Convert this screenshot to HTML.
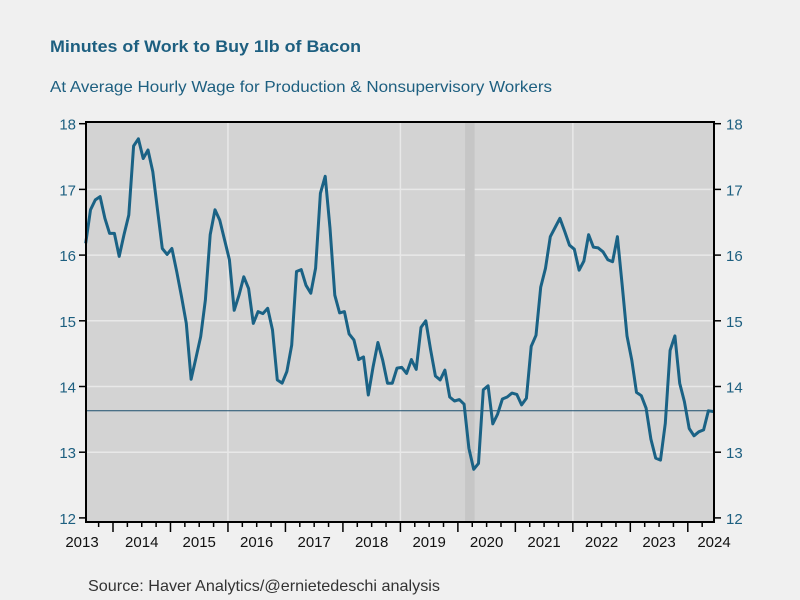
<!DOCTYPE html>
<html><head><meta charset="utf-8"><style>
body{margin:0;background:#f0f0f0;}
svg{display:block;font-family:"Liberation Sans","DejaVu Sans",sans-serif;}
</style></head><body>
<svg width="800" height="600" viewBox="0 0 800 600">
<rect width="800" height="600" fill="#f0f0f0"/>
<text x="50" y="52" font-size="17" font-weight="bold" fill="#1d5f80" textLength="311" lengthAdjust="spacingAndGlyphs">Minutes of Work to Buy 1lb of Bacon</text>
<text x="50" y="92" font-size="16" fill="#1d5f80" textLength="502" lengthAdjust="spacingAndGlyphs">At Average Hourly Wage for Production &amp; Nonsupervisory Workers</text>
<rect x="86" y="122" width="628" height="400" fill="#d3d3d3"/>
<g id="grid"></g>
<g id="marks"></g>
<rect x="86" y="122" width="628" height="400" fill="none" stroke="#000" stroke-width="2"/>
<g id="axes"></g>
<text x="88" y="591" font-size="16" fill="#333" textLength="352" lengthAdjust="spacingAndGlyphs">Source:  Haver Analytics/@ernietedeschi analysis</text>
</svg>
<script>
// Monthly values starting Jul 2013
const values=[16.18,16.69,16.84,16.89,16.56,16.33,16.33,15.98,16.31,16.61,17.66,17.77,17.47,17.60,17.27,16.69,16.10,16.01,16.10,15.75,15.37,14.96,14.11,14.43,14.76,15.32,16.31,16.69,16.53,16.23,15.93,15.16,15.39,15.67,
15.49,14.96,15.14,15.11,15.19,14.86,14.10,14.05,14.23,14.63,15.75,15.78,15.54,15.42,15.80,16.94,17.20,16.41,15.39,15.12,15.14,14.80,14.71,14.41,14.45,13.87,14.30,14.67,14.40,14.05,14.05,14.28,14.29,14.20,
14.41,14.26,14.90,15.00,14.56,14.16,14.10,14.25,13.84,13.78,13.80,13.73,13.06,12.74,12.83,13.95,14.01,13.43,13.58,13.81,13.84,13.90,13.88,13.72,13.82,14.61,14.78,15.51,15.80,16.28,16.42,16.56,
16.36,16.15,16.09,15.77,15.91,16.31,16.12,16.11,16.05,15.93,15.90,16.28,15.54,14.77,14.40,13.91,13.86,13.67,13.20,12.91,12.88,13.44,14.55,14.77,14.05,13.77,13.36,13.25,13.31,13.34,13.63,13.62];
const startMonth=6.3; // months since Jan 2013
const average=13.63;
const yTicks=[12,13,14,15,16,17,18];
const yearLabels=["2013","2014","2015","2016","2017","2018","2019","2020","2021","2022","2023","2024"];
const gridYears=[2016,2019,2022];
const recession=[85.5,87.5];

const NS="http://www.w3.org/2000/svg";
const X=t=>113+(t-12)*4.79;
const Y=v=>123.7+(18-v)*65.7;
function mk(tag,attrs,parent){const e=document.createElementNS(NS,tag);for(const k in attrs)e.setAttribute(k,attrs[k]);parent.appendChild(e);return e;}
const grid=document.getElementById('grid'),marks=document.getElementById('marks'),axes=document.getElementById('axes');

yTicks.forEach(v=>{if(v>12&&v<18){const l=mk('line',{x1:86,x2:714,y1:Y(v),y2:Y(v),stroke:'#e8e8e8','stroke-width':1.5},grid);

}});
gridYears.forEach(yr=>{const x=X((yr-2013)*12);const l=mk('line',{x1:x,x2:x,y1:122,y2:522,stroke:'#e8e8e8','stroke-width':1.5},grid);

});

const rec=mk('rect',{x:X(recession[0]),y:123,width:X(recession[1])-X(recession[0]),height:398,fill:'#c6c6c6'},marks);



const avg=mk('line',{x1:86,x2:714,y1:Y(average),y2:Y(average),stroke:'#1d4f6e','stroke-width':1},marks);



const pts=values.map((v,i)=>X(startMonth+i).toFixed(1)+','+Y(v).toFixed(1)).join(' ');
const line=mk('polyline',{points:pts,fill:'none',stroke:'#1a6285','stroke-width':3,'stroke-linejoin':'round'},marks);



yTicks.forEach(v=>{
 const y=Y(v);
 mk('line',{x1:79,x2:86,y1:y,y2:y,stroke:'#000','stroke-width':1.5},axes);
 mk('line',{x1:714,x2:721,y1:y,y2:y,stroke:'#000','stroke-width':1.5},axes);
 const a=mk('text',{x:76,y:y+6,'font-size':15,fill:'#1d5f80','text-anchor':'end'},axes);a.textContent=v;
 
 
 const b=mk('text',{x:726,y:y+6,'font-size':15,fill:'#1d5f80'},axes);b.textContent=v;
 
 
});
for(let t=9;t<=138;t+=3){const x=X(t);if(x<86||x>714)continue;const major=t%12===0;
 mk('line',{x1:x,x2:x,y1:522,y2:major?532:527,stroke:'#000','stroke-width':1.5},axes);}
yearLabels.forEach((s,i)=>{let x=X(i*12+6);if(i===0)x=82;if(i===yearLabels.length-1)x=714;
 const t=mk('text',{x:x,y:547,'font-size':15,fill:'#111','text-anchor':'middle'},axes);t.textContent=s;
 
 });
</script>
</body></html>
